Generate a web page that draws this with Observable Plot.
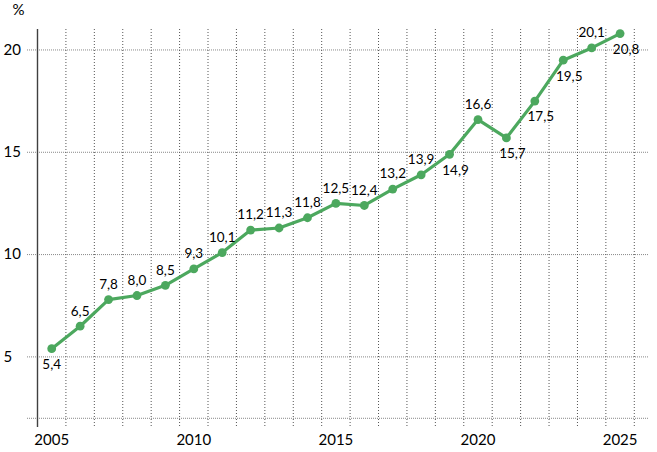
<!DOCTYPE html>
<html><head><meta charset="utf-8">
<script src="https://cdn.jsdelivr.net/npm/d3@7"></script>
<script src="https://cdn.jsdelivr.net/npm/@observablehq/plot@0.6"></script>
<style>body{margin:0;background:#fff;} svg{display:block}</style>
</head><body><div id="chart"></div>
<script>
const years = [2005,2006,2007,2008,2009,2010,2011,2012,2013,2014,2015,2016,2017,2018,2019,2020,2021,2022,2023,2024,2025];
const values = [5.4,6.5,7.8,8.0,8.5,9.3,10.1,11.2,11.3,11.8,12.5,12.4,13.2,13.9,14.9,16.6,15.7,17.5,19.5,20.1,20.8];
const yTicks = [5,10,15,20];
const gridValues = [2,5,10,15,20];
const xTicks = [2005,2010,2015,2020,2025];
const belowYears = [2005,2019,2021,2022,2023,2025];
const unitLabel = "%";

const data = years.map((year,i)=>({year, value: values[i], below: belowYears.includes(year)}));
const fmt = v => v.toFixed(1).replace(".", ",");
const green = "#4ca85e";

const chart = Plot.plot({
  width: 657, height: 452,
  marginLeft: 37, marginRight: 9, marginTop: 29, marginBottom: 25,
  style: {fontFamily: "Lato, sans-serif", fontSize: "15px", color: "#000", background: "#fff"},
  x: {type: "linear", domain: [2004.5, 2026]},
  y: {domain: [1.55, 21]},
  marks: [
    Plot.ruleY(gridValues, {stroke: "#888", strokeDasharray: "1,1", insetLeft: -10}),
    Plot.ruleX(years.map(y => y + 0.5), {stroke: "#555", strokeDasharray: "1,2"}),
    Plot.ruleX([2004.5], {stroke: "#404040", strokeWidth: 1.4}),
    Plot.axisY(yTicks, {tickSize: 0, tickPadding: 34, textAnchor: "start", label: null, fontSize: 15}),
    Plot.axisX(xTicks, {tickSize: 0, tickPadding: 7, tickFormat: "d", label: null, fontSize: 15}),
    Plot.line(data, {x: "year", y: "value", stroke: green, strokeWidth: 3.2}),
    Plot.dot(data, {x: "year", y: "value", r: 4.4, fill: green}),
    Plot.text(data.filter(d => !d.below), {x: "year", y: "value", text: d => fmt(d.value), dy: -15, fontSize: 13.5, fill: "#000"}),
    Plot.text(data.filter(d => d.below && d.year !== years[0]), {x: "year", y: "value", text: d => fmt(d.value), dy: 16, dx: 6, fontSize: 13.5, fill: "#000"}),
    Plot.text(data.filter(d => d.below && d.year === years[0]), {x: "year", y: "value", text: d => fmt(d.value), dy: 16, dx: 0, fontSize: 13.5, fill: "#000"}),
    Plot.text([unitLabel], {frameAnchor: "top-left", dx: -19, dy: -19, textAnchor: "middle", lineAnchor: "middle", fontSize: 15, fill: "#000"})
  ]
});
document.getElementById("chart").appendChild(chart);
</script>
</body></html>
